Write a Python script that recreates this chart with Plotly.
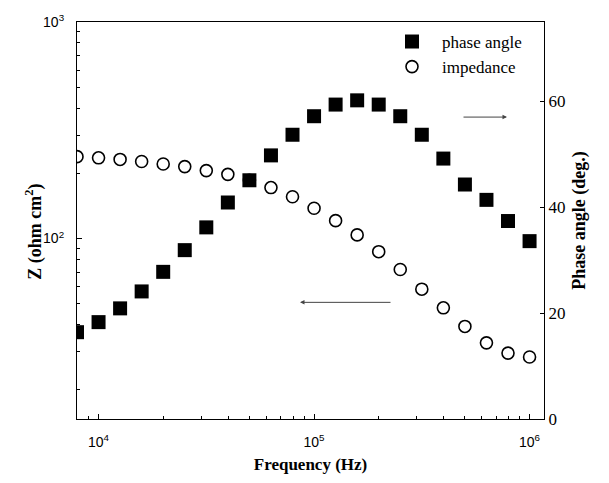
import plotly.graph_objects as go

# ---- data ----
frequency_hz = [7943, 10000, 12589, 15849, 19953, 25119, 31623, 39811, 50119, 63096, 79433,
                100000, 125893, 158489, 199526, 251189, 316228, 398107, 501187, 630957, 794328, 1000000]
impedance_ohm_cm2 = [239, 236, 232, 227, 221, 215, 206, 198, 186, 172, 156,
                     138, 121, 104, 87, 72, 58.4, 47.9, 39.3, 33.0, 29.6, 28.4]
phase_angle_deg = [16.4, 18.3, 20.9, 24.1, 27.8, 31.9, 36.2, 40.9, 45.1, 49.8, 53.7,
                   57.2, 59.4, 60.2, 59.4, 57.2, 53.7, 49.2, 44.3, 41.4, 37.4, 33.6]

x_tickvals = [1e4, 1e5, 1e6]
x_ticktext = ["10<sup>4</sup>", "10<sup>5</sup>", "10<sup>6</sup>"]
y_tickvals = [1e2, 1e3]
y_ticktext = ["10<sup>2</sup>", "10<sup>3</sup>"]
y2_tickvals = [0, 20, 40, 60]

x_minor = [m * 10 ** e for e in (3, 4, 5) for m in range(2, 10)]
y_minor = [m * 10 ** e for e in (1, 2) for m in range(2, 10)]

SERIF = "Liberation Serif"
SANS = "Liberation Sans"

fig = go.Figure()
fig.add_trace(go.Scatter(
    x=frequency_hz, y=phase_angle_deg, name="phase angle", mode="markers", yaxis="y2",
    marker=dict(symbol="square", size=14, color="black", line=dict(width=0)),
))
fig.add_trace(go.Scatter(
    x=frequency_hz, y=impedance_ohm_cm2, name="impedance", mode="markers",
    marker=dict(symbol="circle-open", size=12, color="black", line=dict(width=1.6)),
))

L, R, T, B = 77, 65, 17, 61
W, H = 609, 483
pw, ph = W - L - R, H - T - B


def px(xp):
    return (xp - L) / pw


def py(yp):
    return (H - B - yp) / ph


fig.update_layout(
    width=W, height=H,
    margin=dict(l=L, r=R, t=T, b=B, pad=0),
    paper_bgcolor="white", plot_bgcolor="white",
    showlegend=True,
    legend=dict(x=px(382), y=py(19), xanchor="left", yanchor="top",
                bgcolor="rgba(0,0,0,0)", font=dict(family=SERIF, size=17, color="black"),
                itemwidth=50, tracegroupgap=0),
    xaxis=dict(
        type="log", range=[3.9, 6.067],
        tickmode="array", tickvals=x_tickvals, ticktext=x_ticktext,
        ticks="inside", ticklen=5, tickwidth=1, tickcolor="black",
        minor=dict(tickmode="array", tickvals=x_minor, ticks="inside", ticklen=3, tickcolor="black"),
        showline=True, linecolor="black", linewidth=1.2, mirror=True,
        showgrid=False, zeroline=False,
        tickfont=dict(family=SANS, size=14, color="black"),
        ticklabelstandoff=10,
        title=dict(text="<b>Frequency (Hz)</b>", font=dict(family=SERIF, size=17, color="black"), standoff=9),
    ),
    yaxis=dict(
        type="log", range=[1.167, 3],
        tickmode="array", tickvals=y_tickvals, ticktext=y_ticktext,
        ticks="inside", ticklen=5, tickwidth=1, tickcolor="black",
        minor=dict(tickmode="array", tickvals=y_minor, ticks="inside", ticklen=3, tickcolor="black"),
        showline=True, linecolor="black", linewidth=1.2, mirror=True,
        showgrid=False, zeroline=False,
        tickfont=dict(family=SANS, size=14, color="black"),
        ticklabelstandoff=9,
    ),
    yaxis2=dict(
        overlaying="y", side="right", range=[0, 75],
        tickmode="array", tickvals=y2_tickvals,
        ticks="inside", ticklen=4, tickwidth=1, tickcolor="black",
        showline=True, linecolor="black", linewidth=1.2,
        showgrid=False, zeroline=False,
        tickfont=dict(family=SERIF, size=17, color="black"),
        ticklabelstandoff=0,
        title=dict(text="<b>Phase angle (deg.)</b>", font=dict(family=SERIF, size=18, color="black"), standoff=7),
    ),
)

# left axis title placed as in the reference
fig.add_annotation(xref="paper", yref="paper", x=px(34), y=py(231), text="<b>Z (ohm cm<sup>2</sup>)</b>",
                   textangle=-90, showarrow=False, xanchor="center", yanchor="middle",
                   font=dict(family=SERIF, size=18, color="black"))

# direction arrows
fig.add_annotation(xref="paper", yref="paper", x=px(507), y=py(114), ax=-45, ay=0,
                   showarrow=True, arrowhead=2, arrowsize=0.9, arrowwidth=1, arrowcolor="#444", text="")
fig.add_annotation(xref="paper", yref="paper", x=px(300), y=py(303), ax=92, ay=0,
                   showarrow=True, arrowhead=2, arrowsize=0.9, arrowwidth=1, arrowcolor="#444", text="")

fig.write_html("out.html")
